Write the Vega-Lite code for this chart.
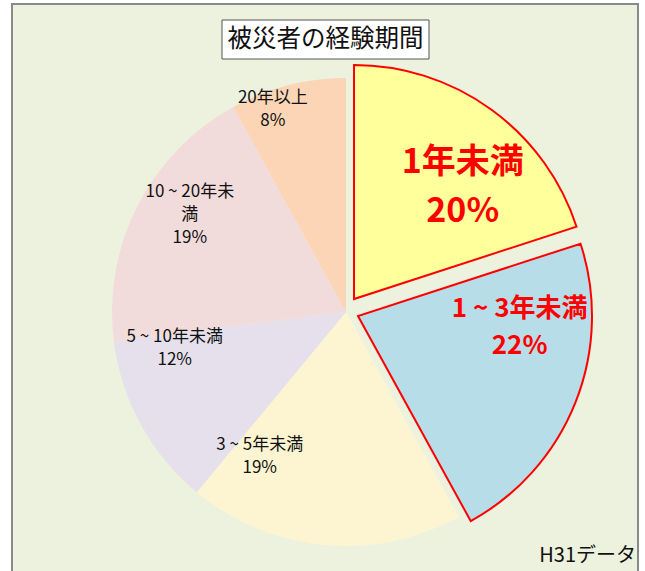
{
  "$schema": "https://vega.github.io/schema/vega-lite/v6.json",
  "width": 626,
  "height": 569,
  "autosize": {"type": "none"},
  "padding": {"left": 12, "top": 4, "right": 7, "bottom": 0},
  "background": "white",
  "config": {
    "view": {"fill": "#edf2de", "stroke": "#8a8a8a", "strokeWidth": 2},
    "text": {"font": "Noto Sans CJK JP"}
  },
  "datasets": {
    "pie": [
      {"idx": 1, "cat": "1年未満", "value": 20, "label": "1年未満\n20%"},
      {"idx": 2, "cat": "1 ~ 3年未満", "value": 22, "label": "1 ~ 3年未満\n22%"},
      {"idx": 3, "cat": "3 ~ 5年未満", "value": 19, "label": "3 ~ 5年未満\n19%"},
      {"idx": 4, "cat": "5 ~ 10年未満", "value": 12, "label": "5 ~ 10年未満\n12%"},
      {"idx": 5, "cat": "10 ~ 20年未満", "value": 19, "label": "10 ~ 20年未\n満\n19%"},
      {"idx": 6, "cat": "20年以上", "value": 8, "label": "20年以上\n8%"}
    ],
    "titleText": [{"t": "被災者の経験期間"}],
    "sourceText": [{"t": "H31データ"}]
  },
  "layer": [
    {
      "data": {"name": "pie"},
      "mark": {"type": "arc", "radius": 234},
      "encoding": {
        "theta": {"field": "value", "type": "quantitative", "stack": true},
        "order": {"field": "idx", "type": "quantitative"},
        "color": {"field": "cat", "type": "nominal", "legend": null,
          "scale": {"domain": ["1年未満", "1 ~ 3年未満", "3 ~ 5年未満", "5 ~ 10年未満", "10 ~ 20年未満", "20年以上"],
                    "range": ["#ffff9c", "#b7dde8", "#fdf5d2", "#e5e0ec", "#f2dcdb", "#fbd5b5"]}},
        "x": {"value": 334},
        "y": {"value": 308},
        "opacity": {"condition": {"test": "datum.idx > 2", "value": 1}, "value": 0}
      }
    },
    {
      "data": {"name": "pie"},
      "mark": {"type": "arc", "radius": 234, "stroke": "#ff0000", "strokeWidth": 2},
      "encoding": {
        "theta": {"field": "value", "type": "quantitative", "stack": true},
        "order": {"field": "idx", "type": "quantitative"},
        "color": {"field": "cat", "type": "nominal", "legend": null},
        "x": {"value": 342},
        "y": {"value": 295},
        "opacity": {"condition": {"test": "datum.idx === 1", "value": 1}, "value": 0}
      }
    },
    {
      "data": {"name": "pie"},
      "mark": {"type": "arc", "radius": 234, "stroke": "#ff0000", "strokeWidth": 2},
      "encoding": {
        "theta": {"field": "value", "type": "quantitative", "stack": true},
        "order": {"field": "idx", "type": "quantitative"},
        "color": {"field": "cat", "type": "nominal", "legend": null},
        "x": {"value": 346},
        "y": {"value": 312},
        "opacity": {"condition": {"test": "datum.idx === 2", "value": 1}, "value": 0}
      }
    },
    {
      "data": {"name": "pie"},
      "mark": {"type": "text", "radius": 215, "thetaOffset": -0.096, "dy": -11.5, "lineBreak": "\n", "fontSize": 17, "lineHeight": 23, "color": "#111111", "align": "center", "baseline": "middle"},
      "encoding": {
        "theta": {"field": "value", "type": "quantitative", "stack": true},
        "order": {"field": "idx", "type": "quantitative"},
        "detail": {"field": "cat", "type": "nominal"},
        "x": {"value": 334}, "y": {"value": 308},
        "text": {"condition": {"test": "datum.idx === 6", "field": "label", "type": "nominal"}, "value": ""}
      }
    },
    {
      "data": {"name": "pie"},
      "mark": {"type": "text", "radius": 184, "thetaOffset": 0.086, "dy": -23, "lineBreak": "\n", "fontSize": 17, "lineHeight": 23, "color": "#111111", "align": "center", "baseline": "middle"},
      "encoding": {
        "theta": {"field": "value", "type": "quantitative", "stack": true},
        "order": {"field": "idx", "type": "quantitative"},
        "detail": {"field": "cat", "type": "nominal"},
        "x": {"value": 334}, "y": {"value": 308},
        "text": {"condition": {"test": "datum.idx === 5", "field": "label", "type": "nominal"}, "value": ""}
      }
    },
    {
      "data": {"name": "pie"},
      "mark": {"type": "text", "radius": 175, "thetaOffset": 0.295, "dy": -11.5, "lineBreak": "\n", "fontSize": 17, "lineHeight": 23, "color": "#111111", "align": "center", "baseline": "middle"},
      "encoding": {
        "theta": {"field": "value", "type": "quantitative", "stack": true},
        "order": {"field": "idx", "type": "quantitative"},
        "detail": {"field": "cat", "type": "nominal"},
        "x": {"value": 334}, "y": {"value": 308},
        "text": {"condition": {"test": "datum.idx === 4", "field": "label", "type": "nominal"}, "value": ""}
      }
    },
    {
      "data": {"name": "pie"},
      "mark": {"type": "text", "radius": 168, "thetaOffset": 0.445, "dy": -11.5, "lineBreak": "\n", "fontSize": 17, "lineHeight": 23, "color": "#111111", "align": "center", "baseline": "middle"},
      "encoding": {
        "theta": {"field": "value", "type": "quantitative", "stack": true},
        "order": {"field": "idx", "type": "quantitative"},
        "detail": {"field": "cat", "type": "nominal"},
        "x": {"value": 334}, "y": {"value": 308},
        "text": {"condition": {"test": "datum.idx === 3", "field": "label", "type": "nominal"}, "value": ""}
      }
    },
    {
      "data": {"name": "pie"},
      "mark": {"type": "text", "radius": 156, "thetaOffset": 0.143, "dy": -24.5, "lineBreak": "\n", "fontSize": 34, "fontWeight": "bold", "lineHeight": 49, "color": "#ff0000", "align": "center", "baseline": "middle"},
      "encoding": {
        "theta": {"field": "value", "type": "quantitative", "stack": true},
        "order": {"field": "idx", "type": "quantitative"},
        "detail": {"field": "cat", "type": "nominal"},
        "x": {"value": 342}, "y": {"value": 295},
        "text": {"condition": {"test": "datum.idx === 1", "field": "label", "type": "nominal"}, "value": ""}
      }
    },
    {
      "data": {"name": "pie"},
      "mark": {"type": "text", "radius": 162, "thetaOffset": -0.304, "dy": -18.5, "lineBreak": "\n", "fontSize": 26, "fontWeight": "bold", "lineHeight": 37, "color": "#ff0000", "align": "center", "baseline": "middle"},
      "encoding": {
        "theta": {"field": "value", "type": "quantitative", "stack": true},
        "order": {"field": "idx", "type": "quantitative"},
        "detail": {"field": "cat", "type": "nominal"},
        "x": {"value": 346}, "y": {"value": 312},
        "text": {"condition": {"test": "datum.idx === 2", "field": "label", "type": "nominal"}, "value": ""}
      }
    },
    {
      "data": {"name": "titleText"},
      "mark": {"type": "rect", "fill": "white", "stroke": "#555555", "strokeWidth": 1},
      "encoding": {
        "x": {"value": 210}, "x2": {"value": 417},
        "y": {"value": 16}, "y2": {"value": 55}
      }
    },
    {
      "data": {"name": "titleText"},
      "mark": {"type": "text", "fontSize": 24.5, "color": "#111111", "align": "center", "baseline": "middle"},
      "encoding": {
        "text": {"field": "t", "type": "nominal"},
        "x": {"value": 313.5}, "y": {"value": 35.5}
      }
    },
    {
      "data": {"name": "sourceText"},
      "mark": {"type": "text", "fontSize": 20, "color": "#111111", "align": "right", "baseline": "middle"},
      "encoding": {
        "text": {"field": "t", "type": "nominal"},
        "x": {"value": 624}, "y": {"value": 552}
      }
    }
  ]
}
